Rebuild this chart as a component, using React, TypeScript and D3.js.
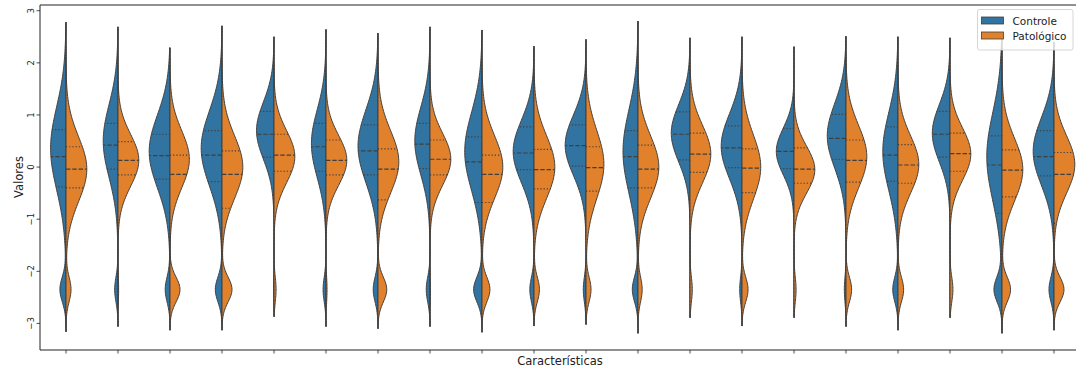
import React from "react";
import * as d3 from "d3";

// Twenty features, no tick labels are shown on the x axis.
const features = [
  "f01", "f02", "f03", "f04", "f05", "f06", "f07", "f08", "f09", "f10",
  "f11", "f12", "f13", "f14", "f15", "f16", "f17", "f18", "f19", "f20",
];

const seriesNames = ["Controle", "Patológico"];
const seriesColors = ["#3274a1", "#e1812c"];

// Density profile of each half: main mode (centre, spread, relative height)
// plus the height of the secondary mode near -2.35.
const controleCenter = [0.36, 0.5, 0.3, 0.36, 0.7, 0.45, 0.4, 0.5, 0.3, 0.3, 0.42, 0.3, 0.65, 0.4, 0.3, 0.6, 0.3, 0.65, 0.2, 0.3];
const controleSpread = [0.8, 0.7, 0.7, 0.72, 0.55, 0.65, 0.7, 0.65, 0.75, 0.6, 0.58, 0.8, 0.55, 0.62, 0.45, 0.62, 0.75, 0.55, 0.85, 0.65];
const controlePeak = [0.74, 0.71, 1.0, 1.0, 0.84, 0.7, 0.96, 0.73, 0.83, 1.0, 1.0, 0.72, 0.9, 1.0, 0.85, 0.9, 0.73, 0.85, 0.73, 1.0];
const controleLow = [0.29, 0.16, 0.23, 0.32, 0.02, 0.14, 0.23, 0.18, 0.4, 0.2, 0.13, 0.27, 0.0, 0.11, 0.0, 0.08, 0.25, 0.0, 0.38, 0.24];
const controleQ1 = [-0.38, -0.04, -0.23, -0.28, 0.19, -0.08, -0.15, -0.03, -0.68, -0.05, 0.02, -0.4, 0.14, -0.01, -0.03, 0.15, -0.27, 0.19, -0.89, -0.17];
const controleMedian = [0.2, 0.42, 0.22, 0.23, 0.63, 0.39, 0.31, 0.44, 0.1, 0.27, 0.41, 0.2, 0.63, 0.37, 0.3, 0.55, 0.23, 0.63, 0.04, 0.2];
const controleQ3 = [0.72, 0.84, 0.63, 0.7, 1.07, 0.84, 0.81, 0.84, 0.58, 0.77, 0.81, 0.7, 1.06, 0.79, 0.74, 1.01, 0.77, 1.07, 0.6, 0.7];

const patologicoCenter = [-0.04, 0.13, 0.15, 0.0, 0.2, 0.13, 0.1, 0.15, 0.0, 0.0, 0.05, 0.0, 0.25, 0.0, -0.05, 0.2, 0.05, 0.25, -0.05, 0.05];
const patologicoSpread = [0.62, 0.5, 0.55, 0.6, 0.5, 0.48, 0.6, 0.5, 0.6, 0.6, 0.65, 0.6, 0.55, 0.62, 0.45, 0.6, 0.55, 0.5, 0.6, 0.55];
const patologicoPeak = [1.0, 1.0, 0.93, 1.0, 1.0, 1.0, 1.0, 1.0, 1.0, 1.0, 0.86, 1.0, 1.0, 0.9, 1.0, 1.0, 1.0, 1.0, 1.0, 1.0];
const patologicoLow = [0.24, 0.03, 0.48, 0.48, 0.1, 0.05, 0.42, 0.02, 0.38, 0.26, 0.24, 0.2, 0.11, 0.29, 0.1, 0.27, 0.27, 0.14, 0.41, 0.48];
const patologicoQ1 = [-0.4, -0.15, -1.84, -0.79, -0.08, -0.15, -0.63, -0.15, -0.68, -0.42, -0.46, -0.4, -0.1, -0.49, -0.31, -0.29, -0.31, -0.08, -0.57, -1.08];
const patologicoMedian = [-0.04, 0.13, -0.14, -0.14, 0.23, 0.13, -0.04, 0.15, -0.14, -0.05, -0.01, -0.04, 0.25, -0.02, -0.04, 0.13, 0.04, 0.26, -0.06, -0.14];
const patologicoQ3 = [0.39, 0.49, 0.23, 0.31, 0.63, 0.52, 0.35, 0.52, 0.23, 0.34, 0.39, 0.42, 0.65, 0.35, 0.37, 0.52, 0.43, 0.65, 0.33, 0.28];

// Extent of each violin (where the density tails end).
const tailTop = [2.78, 2.69, 2.29, 2.71, 2.5, 2.64, 2.57, 2.69, 2.63, 2.32, 2.45, 2.8, 2.48, 2.5, 2.31, 2.51, 2.5, 2.48, 2.45, 2.4];
const tailBottom = [-3.16, -3.06, -3.13, -3.13, -2.87, -3.06, -3.1, -3.06, -3.17, -3.05, -3.02, -3.19, -2.89, -3.05, -2.89, -3.06, -3.13, -2.89, -3.19, -3.13];

const yTicks = [-3, -2, -1, 0, 1, 2, 3];

const LOW_MODE = -2.35;
const LOW_SPREAD = 0.24;

const W = 1076;
const H = 374;
const M = { left: 40, right: 1080, top: 5, bottom: 350 };
const FONT = "DejaVu Sans, sans-serif";
const EDGE = "#3f3f3f";

type Half = {
  center: number;
  spread: number;
  peak: number;
  low: number;
  q1: number;
  median: number;
  q3: number;
};

const halves: Half[][] = features.map((_, i) => [
  {
    center: controleCenter[i], spread: controleSpread[i], peak: controlePeak[i], low: controleLow[i],
    q1: controleQ1[i], median: controleMedian[i], q3: controleQ3[i],
  },
  {
    center: patologicoCenter[i], spread: patologicoSpread[i], peak: patologicoPeak[i], low: patologicoLow[i],
    q1: patologicoQ1[i], median: patologicoMedian[i], q3: patologicoQ3[i],
  },
]);

function density(h: Half, v: number): number {
  const a = (v - h.center) / h.spread;
  const b = (v - LOW_MODE) / LOW_SPREAD;
  return h.peak * Math.exp(-0.5 * a * a) + h.low * Math.exp(-0.5 * b * b);
}

const fmt = (t: number) => (t < 0 ? "\u2212" + Math.abs(t) : String(t));

export default function App() {
  const x = d3.scaleBand<string>().domain(features).range([M.left, M.right]).padding(0);
  const y = d3.scaleLinear().domain([-3.51, 3.11]).range([M.bottom, M.top]);
  const halfWidth = x.bandwidth() * 0.4;

  const violins = features.map((f, i) => {
    const cx = (x(f) as number) + x.bandwidth() / 2;
    const grid = d3.range(0, 201).map((k) => tailBottom[i] + ((tailTop[i] - tailBottom[i]) * k) / 200);
    const pair = halves[i];
    const maxD = d3.max(pair.flatMap((h) => grid.map((v) => density(h, v)))) as number;
    const wScale = d3.scaleLinear().domain([0, maxD]).range([0, halfWidth]);

    return pair.map((h, s) => {
      const dir = s === 0 ? -1 : 1;
      const area = d3
        .area<number>()
        .y((v) => y(v))
        .x0(cx)
        .x1((v) => cx + dir * wScale(density(h, v)))
        .curve(d3.curveLinear);
      const lines = [
        { v: h.q1, dash: "1.2,2" },
        { v: h.median, dash: "4.4,1.9" },
        { v: h.q3, dash: "1.2,2" },
      ].map((q) => ({
        y: y(q.v),
        x1: cx,
        x2: cx + dir * wScale(density(h, q.v)),
        dash: q.dash,
      }));
      return { key: `${f}-${s}`, d: area(grid) as string, color: seriesColors[s], lines };
    });
  });

  return (
    <svg width={W} height={H} style={{ position: "absolute", left: 0, top: 0 }} fontFamily={FONT}>
      <rect x={0} y={0} width={W} height={H} fill="#ffffff" />
      <g>
        {violins.flat().map((h) => (
          <g key={h.key}>
            <path d={h.d} fill={h.color} stroke={EDGE} strokeWidth={1} strokeLinejoin="round" />
            {h.lines.map((l, j) => (
              <line
                key={j}
                x1={l.x1}
                x2={l.x2}
                y1={l.y}
                y2={l.y}
                stroke={EDGE}
                strokeWidth={1.2}
                strokeDasharray={l.dash}
              />
            ))}
          </g>
        ))}
      </g>

      {/* axes frame */}
      <line x1={M.left} x2={M.left} y1={M.top} y2={M.bottom} stroke="#222" strokeWidth={1} />
      <line x1={M.left} x2={M.right} y1={M.bottom} y2={M.bottom} stroke="#222" strokeWidth={1} />
      <line x1={M.left} x2={M.right} y1={M.top} y2={M.top} stroke="#222" strokeWidth={1} />

      {/* y axis */}
      {yTicks.map((t) => (
        <g key={t}>
          <line x1={M.left - 3.5} x2={M.left} y1={y(t)} y2={y(t)} stroke="#222" strokeWidth={0.8} />
          <text
            transform={`translate(${M.left - 6.5},${y(t)}) rotate(-90)`}
            textAnchor="middle"
            fontSize={8.5}
            fill="#222"
          >
            {fmt(t)}
          </text>
        </g>
      ))}
      <text transform={`translate(23,177) rotate(-90)`} textAnchor="middle" fontSize={11.5} fill="#222">
        Valores
      </text>

      {/* x axis */}
      {features.map((f) => {
        const cx = (x(f) as number) + x.bandwidth() / 2;
        return <line key={f} x1={cx} x2={cx} y1={M.bottom} y2={M.bottom + 3.5} stroke="#222" strokeWidth={0.8} />;
      })}
      <text x={(M.left + M.right) / 2} y={365} textAnchor="middle" fontSize={11.5} fill="#222">
        Características
      </text>

      {/* legend */}
      <g>
        <rect x={977.5} y={9.5} width={95.5} height={40.5} rx={2} fill="#ffffff" fillOpacity={0.8} stroke="#cccccc" strokeWidth={0.8} />
        {seriesNames.map((n, s) => (
          <g key={n}>
            <rect x={981.5} y={17 + s * 15} width={22} height={7} fill={seriesColors[s]} stroke={EDGE} strokeWidth={0.8} />
            <text x={1012.5} y={24.5 + s * 15} fontSize={10.5} fill="#222">
              {n}
            </text>
          </g>
        ))}
      </g>
    </svg>
  );
}
